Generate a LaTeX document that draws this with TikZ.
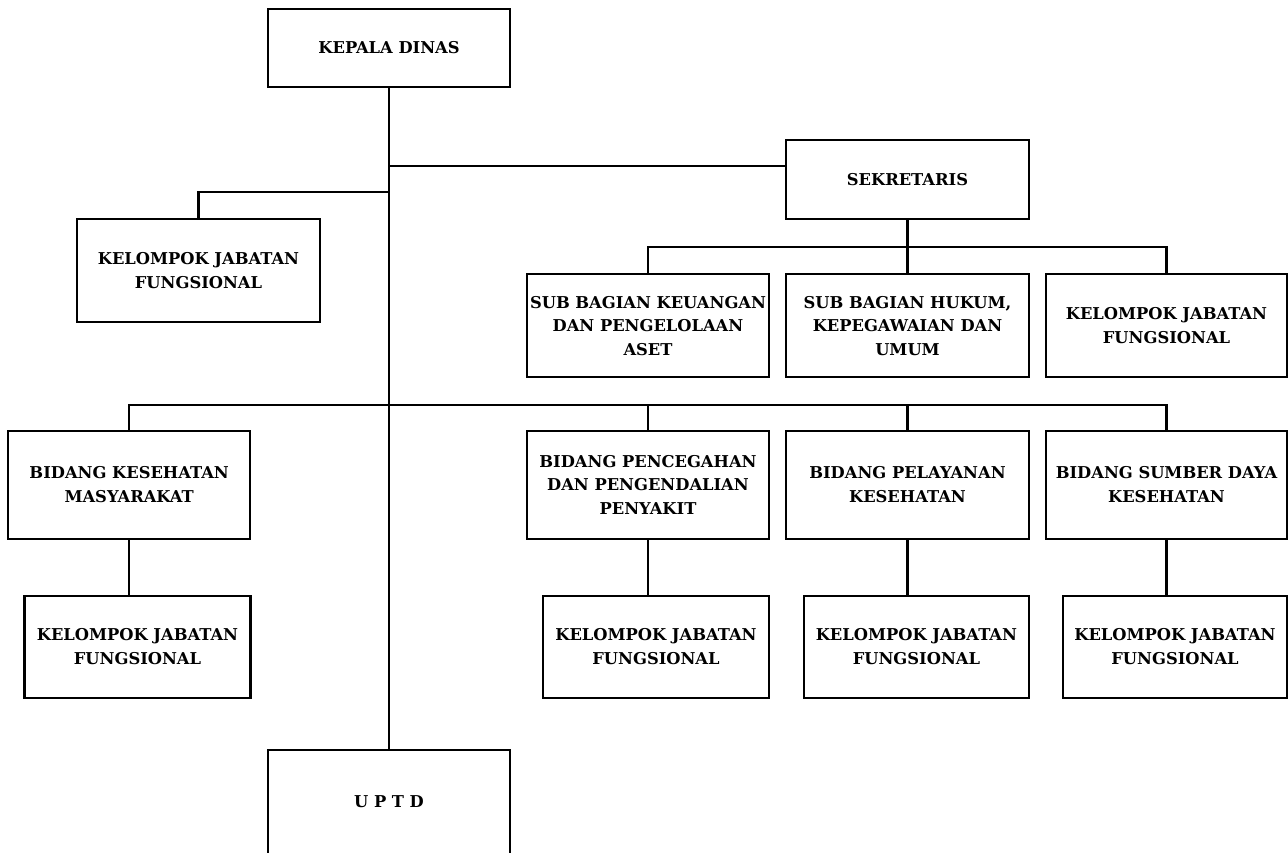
\documentclass[tikz,border=0pt]{standalone}
\usepackage{fontspec}
\setmainfont{DejaVu Serif}
\begin{document}
\begin{tikzpicture}[x=1pt,y=-1pt,
  box/.style={draw=black,line width=2.4pt,inner sep=0pt,align=center,
    font=\fontsize{16.3}{23.5}\selectfont\bfseries},
  link/.style={draw=black,line width=2.4pt}]
\useasboundingbox (0,0) rectangle (1288,852);
\clip (0,0) rectangle (1288,852);
% nodes
\node[box,minimum width=242pt,minimum height=78pt] (kd) at (389,48) {KEPALA DINAS};
\node[box,minimum width=243pt,minimum height=79pt] (sek) at (907.5,179.5) {SEKRETARIS};
\node[box,minimum width=243pt,minimum height=103pt] (kjf0) at (198.5,270.5) {KELOMPOK JABATAN\\FUNGSIONAL};
\node[box,minimum width=242pt,minimum height=103pt] (sbk) at (648,325.7) {SUB BAGIAN KEUANGAN\\DAN PENGELOLAAN\\ASET};
\node[box,minimum width=243pt,minimum height=103pt] (sbh) at (907.5,325.7) {SUB BAGIAN HUKUM,\\KEPEGAWAIAN DAN\\UMUM};
\node[box,minimum width=241pt,minimum height=103pt] (kjfs) at (1166.5,325.7) {KELOMPOK JABATAN\\FUNGSIONAL};
\node[box,minimum width=242pt,minimum height=108pt] (bkm) at (129.2,484.7) {BIDANG KESEHATAN\\MASYARAKAT};
\node[box,minimum width=242pt,minimum height=108pt] (bpp) at (648,484.7) {BIDANG PENCEGAHAN\\DAN PENGENDALIAN\\PENYAKIT};
\node[box,minimum width=243pt,minimum height=108pt] (bpk) at (907.5,484.7) {BIDANG PELAYANAN\\KESEHATAN};
\node[box,minimum width=241pt,minimum height=108pt] (bsd) at (1166.5,484.7) {BIDANG SUMBER DAYA\\KESEHATAN};
\node[box,minimum width=226pt,minimum height=102pt] (kjf1) at (137.5,646.7) {KELOMPOK JABATAN\\FUNGSIONAL};
\node[box,minimum width=226pt,minimum height=102pt] (kjf2) at (656,646.7) {KELOMPOK JABATAN\\FUNGSIONAL};
\node[box,minimum width=225pt,minimum height=102pt] (kjf3) at (916.4,646.7) {KELOMPOK JABATAN\\FUNGSIONAL};
\node[box,minimum width=224pt,minimum height=102pt] (kjf4) at (1175,646.7) {KELOMPOK JABATAN\\FUNGSIONAL};
\node[box,minimum width=242pt,minimum height=110pt] (uptd) at (389,805) {};
\node[font=\fontsize{16.3}{23.5}\selectfont\bfseries,inner sep=0pt] (uptdt) at (389,801.5) {U P T D};
% junctions
\coordinate (j1) at (389,166);
\coordinate (j2) at (389,192);
\coordinate (jb) at (389,405);
\coordinate (js) at (907.5,247);
% connectors
\draw[link] (kd.south) -- (uptd.north);
\draw[link] (j1) -- (j1 -| sek.west);
\draw[link] (j2) -| (kjf0.north);
\draw[link] (sek.south) -- (js);
\draw[link] (sbk.north) |- (js) -| (kjfs.north);
\draw[link] (js) -- (sbh.north);
\draw[link] (bkm.north) |- (jb) -| (bsd.north);
\draw[link] (bpp.north) |- (jb);
\draw[link] (bpk.north) |- (jb);
\draw[link] (bkm.south) -- (bkm.south |- kjf1.north);
\draw[link] (bpp.south) -- (bpp.south |- kjf2.north);
\draw[link] (bpk.south) -- (bpk.south |- kjf3.north);
\draw[link] (bsd.south) -- (bsd.south |- kjf4.north);
\end{tikzpicture}
\end{document}
